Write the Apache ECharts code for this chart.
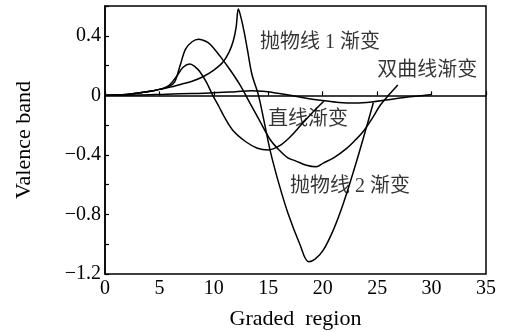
<!DOCTYPE html>
<html>
<head>
<meta charset="utf-8">
<script src="https://cdn.jsdelivr.net/npm/echarts@6/dist/echarts.min.js"></script>
<style>html,body{margin:0;padding:0;background:#fff;}#c{width:510px;height:332px;}</style>
</head>
<body>
<div id="c"></div>
<script>
// Curve: 抛物线 2 (tall peak, deep minimum)
var xA = [0, 2, 4, 5, 6, 7, 8, 9, 10, 10.8, 11.4, 11.8, 12.05, 12.25, 12.5, 12.8, 13.1, 13.5, 14.1, 14.6, 15.2, 16.0, 16.8, 17.9, 18.7, 19.3, 20.05, 21.0, 21.9, 23.0, 23.8, 24.65];
var yA = [0, 0.006, 0.025, 0.04, 0.055, 0.075, 0.095, 0.125, 0.17, 0.22, 0.29, 0.37, 0.46, 0.58, 0.52, 0.42, 0.30, 0.14, 0.0, -0.17, -0.38, -0.6, -0.79, -1.0, -1.117, -1.1, -1.04, -0.9, -0.725, -0.47, -0.27, -0.05];
// Curve: peak 0.37
var xB = [0, 2, 4, 5, 5.9, 6.4, 6.9, 7.4, 8.0, 8.6, 9.2, 9.7, 10.6, 11.5, 12.4, 13.3, 14.2, 15.2, 15.9, 16.8, 17.5, 18.5, 19.4, 20.05, 21.0, 22.2, 23.0, 23.7, 24.5, 25.3, 26.1, 26.9];
var yB = [0, 0.006, 0.025, 0.04, 0.06, 0.09, 0.2, 0.31, 0.36, 0.377, 0.365, 0.34, 0.26, 0.17, 0.07, -0.05, -0.17, -0.3, -0.36, -0.42, -0.44, -0.47, -0.48, -0.455, -0.42, -0.356, -0.3, -0.245, -0.16, -0.065, 0.005, 0.07];
// Curve: peak 0.21
var xC = [0, 2, 4, 5, 5.6, 6.0, 6.6, 7.2, 7.8, 8.3, 8.7, 9.3, 9.9, 10.5, 11.0, 11.8, 12.9, 14.0, 15.0, 16.0, 17.0, 18.0, 19.0, 20.1];
var yC = [0, 0.006, 0.025, 0.04, 0.055, 0.075, 0.13, 0.19, 0.21, 0.19, 0.16, 0.09, 0.0, -0.08, -0.15, -0.24, -0.31, -0.355, -0.367, -0.34, -0.28, -0.2, -0.12, -0.04];
// Nearly flat curve
var xD = [0, 3, 5.7, 8, 9.6, 12, 13.4, 14.5, 16, 17, 18.5, 20, 21.5, 23, 24.5, 26, 27.5, 30];
var yD = [0, 0.002, 0.008, 0.012, 0.015, 0.024, 0.03, 0.027, 0.012, 0.0, -0.02, -0.035, -0.048, -0.052, -0.045, -0.03, -0.015, 0.005];

// Annotation texts and their positions (data units)
var noteText = ['抛物线 1 渐变', '双曲线渐变', '直线渐变', '抛物线 2 渐变'];
var noteX = [19.75, 29.6, 18.65, 22.5];
var noteY = [0.351, 0.163, -0.166, -0.615];

// Axis settings
var xTicks = [0, 5, 10, 15, 20, 25, 30, 35];
var yLabels = [-1.2, -0.8, -0.4, 0, 0.4];

function zip(xs, ys) { return xs.map(function (v, i) { return [v, ys[i]]; }); }

var serif = '"Liberation Serif", "Times New Roman", "Noto Sans CJK SC", serif';
var lineStyle = { color: '#000', width: 1.5 };

function curve(xs, ys) {
  return {
    type: 'line', data: zip(xs, ys), showSymbol: false, symbol: 'none',
    smooth: 0.35, lineStyle: lineStyle, silent: true, z: 3
  };
}

var chart = echarts.init(document.getElementById('c'), null, { renderer: 'canvas' });
chart.setOption({
  animation: false,
  backgroundColor: '#fff',
  grid: { left: 105, right: 24, top: 6, bottom: 58, containLabel: false, outerBoundsMode: 'none',
          show: true, borderColor: '#000', borderWidth: 1.5, backgroundColor: 'transparent' },
  xAxis: {
    type: 'value', min: xTicks[0], max: xTicks[xTicks.length - 1], interval: 5,
    name: 'Graded  region', nameLocation: 'middle', nameGap: 34,
    nameTextStyle: { fontFamily: serif, fontSize: 22, color: '#000' },
    axisLine: { show: true, lineStyle: { color: '#000', width: 1.5 } },
    axisTick: { show: true, inside: true, length: 4, lineStyle: { color: '#000', width: 1.2 } },
    axisLabel: { fontFamily: serif, fontSize: 20, color: '#000', margin: 5 },
    splitLine: { show: false }
  },
  yAxis: {
    type: 'value', min: -1.2, max: 0.6, interval: 0.2,
    name: 'Valence band', nameLocation: 'middle', nameGap: 70,
    nameTextStyle: { fontFamily: serif, fontSize: 22, color: '#000' },
    axisLine: { show: true, lineStyle: { color: '#000', width: 1.5 } },
    axisTick: { show: true, inside: true, length: 4, lineStyle: { color: '#000', width: 1.2 } },
    axisLabel: {
      fontFamily: serif, fontSize: 20, color: '#000', margin: 4,
      formatter: function (v) {
        var r = Math.round(v * 10) / 10;
        for (var i = 0; i < yLabels.length; i++) {
          if (Math.abs(yLabels[i] - r) < 1e-6) {
            return r < 0 ? '\u2212' + Math.abs(r).toString() : r.toString();
          }
        }
        return '';
      }
    },
    splitLine: { show: false }
  },
  series: [
    curve(xA, yA),
    curve(xB, yB),
    curve(xC, yC),
    curve(xD, yD),
    {
      type: 'scatter', symbolSize: 0, silent: true, z: 5,
      data: noteText.map(function (t, i) { return { name: t, value: [noteX[i], noteY[i]] }; }),
      label: {
        show: true, position: 'inside', formatter: '{b}',
        fontFamily: serif, fontSize: 20, color: '#000'
      }
    }
  ]
});
</script>
</body>
</html>
